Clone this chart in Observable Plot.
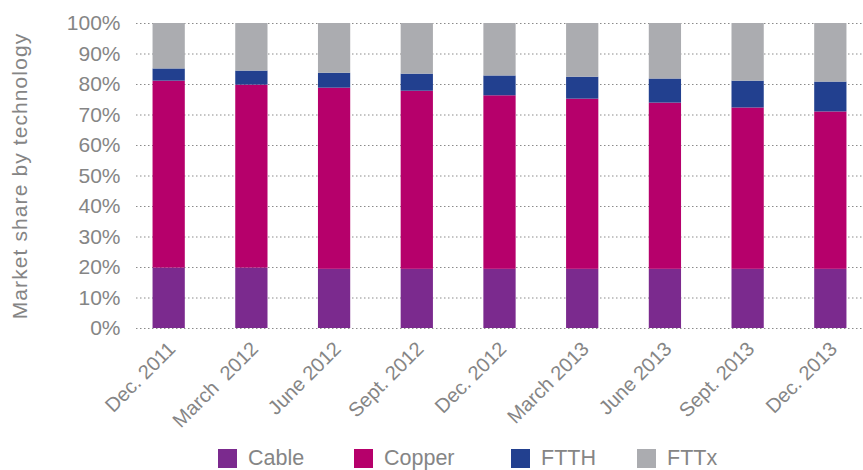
<!DOCTYPE html>
<html><head><meta charset="utf-8">
<script src="https://cdn.jsdelivr.net/npm/d3@7"></script>
<script src="https://cdn.jsdelivr.net/npm/@observablehq/plot@0.6"></script>
<style>
body{margin:0;background:#fff;font-family:"Liberation Sans",Arial,sans-serif;}
#legend{padding-left:218px;margin-top:2px;}
#legend .lg-swatch{margin-right:0;}
#legend .lg-swatch svg{margin-right:11px;}
g[aria-label="y-axis label"] text{letter-spacing:1.1px;}
</style></head><body>
<div id="chart"></div><div id="legend"></div>
<script>
const periods = ["Dec. 2011","March\u00a0 2012","June 2012","Sept. 2012","Dec. 2012","March 2013","June 2013","Sept. 2013","Dec. 2013"];
const technologies = ["Cable","Copper","FTTH","FTTx"];
const colors = ["#7b2a8e","#b6006b","#22408f","#abacb0"];
const cable  = [19.8, 19.8, 19.4, 19.4, 19.4, 19.4, 19.4, 19.4, 19.4];
const copper = [61.3, 60.0, 59.4, 58.4, 56.9, 55.8, 54.5, 52.9, 51.6];
const ftth   = [4.0, 4.6, 4.9, 5.6, 6.5, 7.2, 7.9, 8.8, 9.8];
const fttx   = [14.9, 15.6, 16.3, 16.6, 17.2, 17.6, 18.2, 18.9, 19.2];
const yTicks = [0,10,20,30,40,50,60,70,80,90,100];
const yLabel = "Market share by technology";

const series = [cable, copper, ftth, fttx];
const rows = periods.flatMap((p, i) => technologies.map((t, j) => ({period: p, tech: t, share: series[j][i]})));

const font = "Liberation Sans, Arial, sans-serif";
const gray = "#858585";
const chart = Plot.plot({
  width: 863, height: 440,
  marginTop: 23, marginBottom: 112, marginLeft: 136, marginRight: 0,
  style: {fontFamily: font, fontSize: "20px", color: gray, background: "#fff"},
  x: {domain: periods, paddingInner: 0.61, paddingOuter: 0.2, round: false, label: null},
  y: {domain: [0, 100], label: null},
  color: {domain: technologies, range: colors},
  marks: [
    Plot.gridY(yTicks, {stroke: "#8a8a8a", strokeOpacity: 1, strokeDasharray: "1.5,2.5"}),
    Plot.barY(rows, {x: "period", y: "share", fill: "tech", order: technologies}),
    Plot.axisY(yTicks, {tickSize: 0, tickPadding: 16, fontSize: 21, tickFormat: d => d + "%", label: yLabel, labelAnchor: "center", labelOffset: 124, labelArrow: "none"}),
    Plot.axisX({tickSize: 0, tickRotate: -45, tickPadding: 17, dx: 3, label: null})
  ]
});
document.getElementById("chart").append(chart);
const legend = chart.legend("color", {swatchSize: 19, className: "lg", style: {fontFamily: font, fontSize: "21.5px", color: gray}});
document.getElementById("legend").append(legend);
const itemWidths = [136, 157, 126];
legend.querySelectorAll(".lg-swatch").forEach((el, i) => {
  if (i < itemWidths.length) { el.style.width = itemWidths[i] + "px"; el.style.flex = "none"; }
});
</script>
</body></html>
